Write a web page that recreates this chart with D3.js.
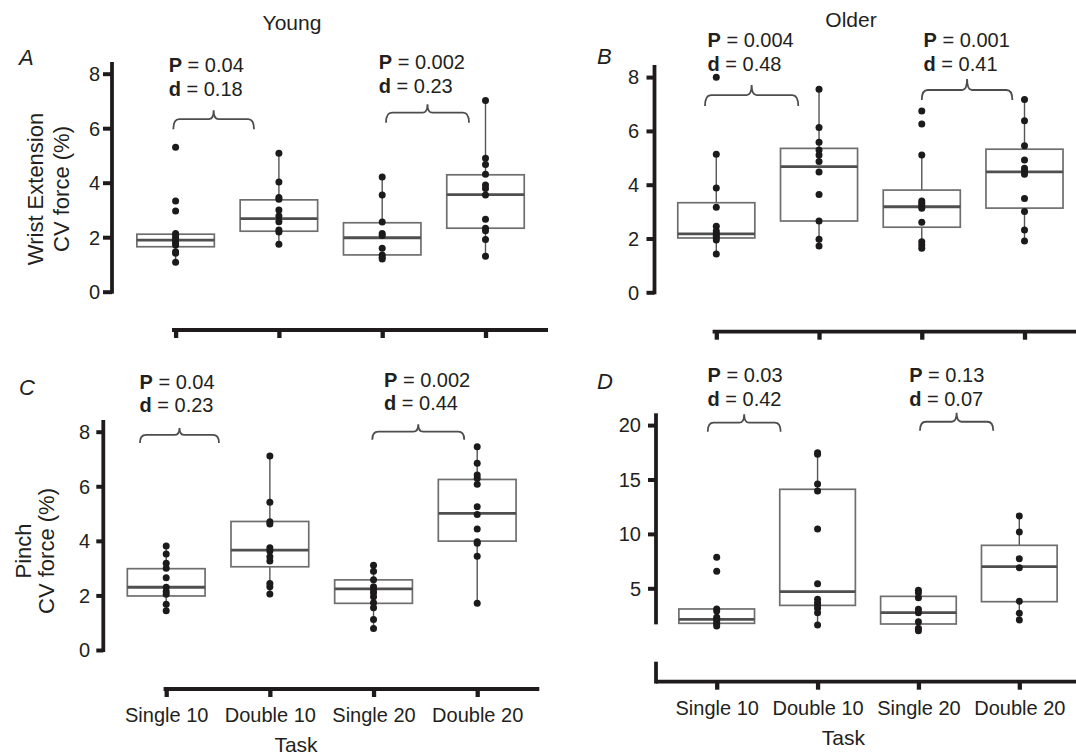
<!DOCTYPE html>
<html>
<head>
<meta charset="utf-8">
<script src="https://cdn.jsdelivr.net/npm/d3@7"></script>
<style>
  html, body { margin: 0; padding: 0; background: #fff; }
  svg { display: block; }
  text { font-family: "Liberation Sans", Arial, Helvetica, sans-serif; fill: #231f20; }
</style>
</head>
<body>
<svg id="chart" width="1076" height="755"></svg>
<script>
// ---------------- DATA ----------------
const categories = ["Single 10", "Double 10", "Single 20", "Double 20"];
const ticksWrist = [0, 2, 4, 6, 8];
const ticksPinchYoung = [0, 2, 4, 6, 8];
const ticksPinchOlder = [5, 10, 15, 20];

// box stats per task: [lower whisker, Q1, median, Q3, upper whisker]
const boxYoungWrist = [
  [1.08, 1.65, 1.89, 2.11, 2.14],
  [1.74, 2.22, 2.68, 3.37, 5.08],
  [1.20, 1.35, 1.98, 2.53, 4.21],
  [1.30, 2.33, 3.56, 4.29, 7.02]
];
const ptsYoungWrist = [
  [5.30, 3.33, 2.96, 2.14, 2.06, 1.96, 1.87, 1.80, 1.71, 1.47, 1.41, 1.08],
  [5.08, 4.03, 3.46, 3.39, 3.00, 2.78, 2.57, 2.26, 2.19, 1.74],
  [4.21, 3.55, 2.56, 2.14, 2.06, 1.59, 1.35, 1.26, 1.20],
  [7.02, 4.90, 4.67, 4.31, 3.92, 3.79, 3.55, 2.66, 2.33, 2.24, 1.92, 1.30]
];

const boxOlderWrist = [
  [1.42, 2.02, 2.17, 3.33, 5.13],
  [1.72, 2.65, 4.67, 5.35, 7.55],
  [1.64, 2.42, 3.18, 3.80, 5.10],
  [1.91, 3.13, 4.48, 5.32, 7.17]
];
const ptsOlderWrist = [
  [7.99, 5.13, 3.88, 3.16, 2.46, 2.28, 2.19, 2.10, 2.03, 1.94, 1.42],
  [7.55, 6.13, 5.58, 5.29, 5.10, 4.86, 4.47, 3.64, 2.65, 1.97, 1.72],
  [6.74, 6.26, 5.10, 3.39, 3.31, 3.22, 3.12, 2.60, 1.88, 1.76, 1.64],
  [7.17, 6.38, 5.45, 4.92, 4.61, 4.51, 4.39, 3.49, 3.00, 2.32, 1.91]
];

const boxYoungPinch = [
  [1.44, 1.98, 2.30, 2.98, 3.81],
  [2.05, 3.05, 3.66, 4.71, 7.11],
  [0.79, 1.71, 2.24, 2.57, 3.11],
  [1.71, 3.99, 5.01, 6.25, 7.45]
];
const ptsYoungPinch = [
  [3.81, 3.52, 3.18, 3.00, 2.65, 2.30, 2.14, 2.04, 1.68, 1.44],
  [7.11, 5.41, 4.70, 4.62, 3.75, 3.63, 3.42, 3.26, 2.44, 2.32, 2.05],
  [3.11, 2.89, 2.57, 2.32, 2.22, 2.10, 1.95, 1.73, 1.55, 1.12, 0.79],
  [7.45, 6.84, 6.41, 6.29, 6.07, 5.25, 4.97, 4.43, 3.97, 3.91, 3.44, 1.71]
];

const boxOlderPinch = [
  [1.53, 1.78, 2.15, 3.10, 3.10],
  [1.63, 3.43, 4.69, 14.10, 17.46],
  [1.10, 1.72, 2.76, 4.26, 4.82],
  [2.09, 3.77, 6.99, 8.95, 11.65]
];
const ptsOlderPinch = [
  [7.85, 6.56, 3.10, 2.91, 2.33, 2.15, 1.93, 1.72, 1.53],
  [17.46, 17.32, 14.59, 13.94, 10.45, 5.42, 3.99, 3.68, 3.46, 3.16, 2.76, 1.63],
  [4.82, 4.60, 4.14, 3.07, 2.76, 1.93, 1.32, 1.10],
  [11.65, 10.17, 7.72, 6.89, 3.80, 2.70, 2.09]
];

// comparison statistics: [P, d] for Single vs Double 10, Single vs Double 20
const statsYoungWrist = [["0.04", "0.18"], ["0.002", "0.23"]];
const statsOlderWrist = [["0.004", "0.48"], ["0.001", "0.41"]];
const statsYoungPinch = [["0.04", "0.23"], ["0.002", "0.44"]];
const statsOlderPinch = [["0.03", "0.42"], ["0.13", "0.07"]];

// ---------------- LAYOUT ----------------
const panels = [
  { letter: "A", box: boxYoungWrist, pts: ptsYoungWrist, stats: statsYoungWrist, ticks: ticksWrist, yDomain: [0, 8],
    xRange: [175.6, 485.5], yRange: [291.7, 73.7], yAxisX: 112, yAxisTop: 62, yAxisBottom: 0, tickLen: 9, tickLabelX: 100,
    xAxisY: 330, xAxisStart: 172, xAxisEnd: 548, showXLabels: false,
    letterPos: [19, 65],
    brackets: [{ a: -0.022, b: 0.759, y: 6.33, drop: 10, rise: 9 }, { a: 2.037, b: 2.84, y: 6.57, drop: 10, rise: 8.5 }],
    texts: [[168.7, 71.5, 96], [378.8, 69, 93]],
    yTitle: ["Wrist Extension", "CV force (%)"], yTitleX: [43, 69.4], yTitleY: 189 },
  { letter: "B", box: boxOlderWrist, pts: ptsOlderWrist, stats: statsOlderWrist, ticks: ticksWrist, yDomain: [0, 8],
    xRange: [716.3, 1024.5], yRange: [292.3, 77.1], yAxisX: 654.5, yAxisTop: 65, yAxisBottom: 0, tickLen: 8, tickLabelX: 639,
    xAxisY: 331.7, xAxisStart: 712.6, xAxisEnd: 1080, showXLabels: false,
    letterPos: [597, 64],
    brackets: [{ a: -0.11, b: 0.798, y: 7.33, drop: 11, rise: 10 }, { a: 2.0, b: 2.882, y: 7.52, drop: 10, rise: 11 }],
    texts: [[707.5, 46.5, 70.5], [923.6, 46.5, 70.5]],
    yTitle: null },
  { letter: "C", box: boxYoungPinch, pts: ptsYoungPinch, stats: statsYoungPinch, ticks: ticksPinchYoung, yDomain: [0, 8],
    xRange: [166.2, 477.2], yRange: [650, 431.7], yAxisX: 103.3, yAxisTop: 420, yAxisBottom: 0, tickLen: 7, tickLabelX: 90,
    xAxisY: 689, xAxisStart: 163.6, xAxisEnd: 539.3, showXLabels: true, xLabelY: 721.7, taskPos: [296, 751.7],
    letterPos: [19, 395],
    brackets: [{ a: -0.253, b: 0.509, y: 7.88, drop: 8, rise: 7 }, { a: 1.988, b: 2.875, y: 8.0, drop: 8, rise: 7.5 }],
    texts: [[139.5, 389, 412], [384, 386.5, 409.5]],
    yTitle: ["Pinch", "CV force (%)"], yTitleX: [31, 54], yTitleY: 551 },
  { letter: "D", box: boxOlderPinch, pts: ptsOlderPinch, stats: statsOlderPinch, ticks: ticksPinchOlder, yDomain: [0, 20],
    xRange: [716.7, 1019.3], yRange: [642.7, 425.1], yAxisX: 656, yAxisTop: 413.3, yAxisBottom: 1.87, tickLen: 8, tickLabelX: 641,
    xAxisY: 681.7, xAxisStart: 656, xAxisEnd: 1080, showXLabels: true, xLabelY: 715, taskPos: [843.4, 745],
    lowerStub: [661.7, 681.7],
    letterPos: [597, 389],
    brackets: [{ a: -0.089, b: 0.634, y: 20.22, drop: 9, rise: 8.5 }, { a: 2.015, b: 2.742, y: 20.31, drop: 9, rise: 9 }],
    texts: [[707.5, 381.5, 405.5], [909.2, 381.5, 405.5]],
    yTitle: null }
];

const svg = d3.select("#chart");
const AX = "#1f1b1c";

// column titles
svg.append("text").attr("x", 292).attr("y", 30).attr("text-anchor", "middle").attr("font-size", 21).text("Young");
svg.append("text").attr("x", 851).attr("y", 26.7).attr("text-anchor", "middle").attr("font-size", 21).text("Older");

panels.forEach(p => {
  const g = svg.append("g");
  const x = d3.scalePoint().domain(categories).range(p.xRange);
  const idx = d3.scaleLinear().domain([0, 3]).range(p.xRange);
  const y = d3.scaleLinear().domain(p.yDomain).range(p.yRange);
  const boxW = (p.xRange[1] - p.xRange[0]) / 3 * 0.75;

  // panel letter
  g.append("text").attr("x", p.letterPos[0]).attr("y", p.letterPos[1])
    .attr("font-size", 22).attr("font-style", "italic").text(p.letter);

  // y axis via d3.axisLeft, then restyled
  const yAxis = d3.axisLeft(y).tickValues(p.ticks).tickSize(p.tickLen).tickPadding(p.yAxisX - p.tickLen - p.tickLabelX).tickFormat(d3.format("d"));
  const ya = g.append("g").attr("transform", `translate(${p.yAxisX},0)`).call(yAxis);
  ya.select(".domain").remove();
  ya.selectAll(".tick line").attr("stroke", AX).attr("stroke-width", 4);
  ya.selectAll(".tick text").attr("font-size", 20).attr("fill", "#231f20")
    .attr("font-family", '"Liberation Sans", Arial, Helvetica, sans-serif').attr("dy", "0.34em");
  g.append("line").attr("x1", p.yAxisX).attr("x2", p.yAxisX)
    .attr("y1", p.yAxisTop).attr("y2", y(p.yAxisBottom) + 2)
    .attr("stroke", AX).attr("stroke-width", 3.8);
  if (p.lowerStub) {
    g.append("line").attr("x1", p.yAxisX).attr("x2", p.yAxisX)
      .attr("y1", p.lowerStub[0]).attr("y2", p.lowerStub[1] + 1.9)
      .attr("stroke", AX).attr("stroke-width", 3.8);
  }

  // x axis via d3.axisBottom
  const xAxis = d3.axisBottom(x).tickSize(8).tickPadding(12);
  const xa = g.append("g").attr("transform", `translate(0,${p.xAxisY})`).call(xAxis);
  xa.select(".domain").remove();
  xa.selectAll(".tick line").attr("stroke", AX).attr("stroke-width", 4.3);
  if (p.showXLabels) {
    xa.selectAll(".tick text").attr("font-size", 20).attr("fill", "#231f20")
      .attr("font-family", '"Liberation Sans", Arial, Helvetica, sans-serif')
      .attr("y", p.xLabelY - p.xAxisY).attr("dy", 0);
    g.append("text").attr("x", p.taskPos[0]).attr("y", p.taskPos[1]).attr("text-anchor", "middle")
      .attr("font-size", 21).text("Task");
  } else {
    xa.selectAll(".tick text").remove();
  }
  g.append("line").attr("x1", p.xAxisStart).attr("x2", p.xAxisEnd)
    .attr("y1", p.xAxisY).attr("y2", p.xAxisY).attr("stroke", AX).attr("stroke-width", 3.8);

  // y title
  if (p.yTitle) {
    p.yTitle.forEach((t, i) => {
      g.append("text").attr("transform", `translate(${p.yTitleX[i]},${p.yTitleY}) rotate(-90)`)
        .attr("text-anchor", "middle").attr("font-size", 22).text(t);
    });
  }

  // boxes
  categories.forEach((c, i) => {
    const [lo, q1, med, q3, hi] = p.box[i];
    const cx = x(c);
    g.append("line").attr("x1", cx).attr("x2", cx).attr("y1", y(q3)).attr("y2", y(hi))
      .attr("stroke", "#555").attr("stroke-width", 1.4);
    g.append("line").attr("x1", cx).attr("x2", cx).attr("y1", y(q1)).attr("y2", y(lo))
      .attr("stroke", "#555").attr("stroke-width", 1.4);
    g.append("rect").attr("x", cx - boxW / 2).attr("width", boxW)
      .attr("y", y(q3)).attr("height", y(q1) - y(q3))
      .attr("fill", "#fff").attr("stroke", "#6e6e6e").attr("stroke-width", 1.7);
    g.append("line").attr("x1", cx - boxW / 2).attr("x2", cx + boxW / 2).attr("y1", y(med)).attr("y2", y(med))
      .attr("stroke", "#4f4f4f").attr("stroke-width", 2.8);
  });

  // points
  categories.forEach((c, i) => {
    g.selectAll(null).data(p.pts[i]).enter().append("circle")
      .attr("cx", x(c)).attr("cy", d => y(d)).attr("r", 3.5).attr("fill", "#1c1a1b");
  });

  // brackets
  p.brackets.forEach(b => {
    const x1 = idx(b.a), x2 = idx(b.b), yt = y(b.y), xm = (x1 + x2) / 2;
    const c = 6, c2 = 5;
    const path = `M${x1},${yt + b.drop} Q${x1},${yt} ${x1 + c},${yt} L${xm - c2},${yt} Q${xm},${yt} ${xm},${yt - b.rise} ` +
      `Q${xm},${yt} ${xm + c2},${yt} L${x2 - c},${yt} Q${x2},${yt} ${x2},${yt + b.drop}`;
    g.append("path").attr("d", path).attr("fill", "none").attr("stroke", "#4d4d4d").attr("stroke-width", 1.8);
  });

  // stats text
  p.texts.forEach((t, i) => {
    const tp = g.append("text").attr("x", t[0]).attr("y", t[1]).attr("font-size", 20);
    tp.append("tspan").attr("font-weight", "bold").text("P");
    tp.append("tspan").text(" = " + p.stats[i][0]);
    const td = g.append("text").attr("x", t[0]).attr("y", t[2]).attr("font-size", 20);
    td.append("tspan").attr("font-weight", "bold").text("d");
    td.append("tspan").text(" = " + p.stats[i][1]);
  });
});
</script>
</body>
</html>
